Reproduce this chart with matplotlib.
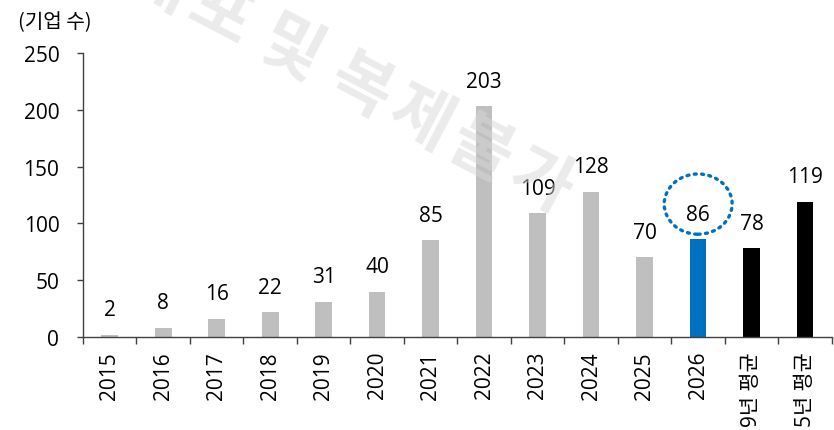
import matplotlib
matplotlib.use("Agg")
import matplotlib.pyplot as plt
from matplotlib.patches import Ellipse
import numpy as np

plt.rcParams['font.family'] = ['Open Sans', 'Noto Sans CJK KR', 'DejaVu Sans']

categories = ["2015", "2016", "2017", "2018", "2019", "2020", "2021", "2022",
              "2023", "2024", "2025", "2026", "9년 평균", "5년 평균"]
values = [2, 8, 16, 22, 31, 40, 85, 203, 109, 128, 70, 86, 78, 119]
bar_colors = ["#BFBFBF"] * 11 + ["#0070C0", "#000000", "#000000"]
highlight = "2026"
y_unit = "(기업 수)"
yticks = [0, 50, 100, 150, 200, 250]
watermark = "무단배포 및 복제불가"

W, H = 834, 431
fig = plt.figure(figsize=(W / 100, H / 100), dpi=100)
ax = fig.add_axes([0.0995, 0.2158, 0.898, 0.6589])

x = np.arange(len(categories))
ax.bar(x, values, width=0.31, color=bar_colors, zorder=2)

for xi, v in zip(x, values):
    ax.annotate(str(v), (xi, v), xytext=(0, 14), textcoords="offset points",
                ha="center", va="baseline", fontsize=15, color="#000000", zorder=3)

# highlight ellipse around the 2026 label
hi = categories.index(highlight)
ell = Ellipse((hi, values[hi] + 31), width=1.27, height=53, fill=False,
              edgecolor="#0070C0", linewidth=2.4, linestyle=(0, (0.6, 1.6)),
              capstyle="round", zorder=4, clip_on=False)
ax.add_patch(ell)

ax.set_xlim(-0.5, len(categories) - 0.5)
ax.set_ylim(0, 250)
ax.set_yticks(yticks)
ax.set_yticklabels([str(t) for t in yticks], fontsize=15)
ax.set_xticks(x)
ax.set_xticklabels(categories, rotation=90, fontsize=15)
ax.set_xticks(np.arange(-0.5, len(categories)), minor=True)

for s in ["top", "right"]:
    ax.spines[s].set_visible(False)
for s in ["left", "bottom"]:
    ax.spines[s].set_color("#404040")
    ax.spines[s].set_linewidth(1.0)

ax.tick_params(axis="x", which="major", length=0, pad=10)
ax.tick_params(axis="x", which="minor", length=5, width=1.0, color="#404040", direction="out")
ax.tick_params(axis="y", which="major", length=4, width=1.0, color="#404040", pad=13)

fig.text(0.021, 0.948, y_unit, fontsize=14.5, ha="left", va="center",
         family=['Noto Sans CJK KR', 'DejaVu Sans'])

# faint diagonal watermark, laid out character by character (spaced letters)
ang = np.deg2rad(27.6)
d = np.array([np.cos(ang), np.sin(ang)])
start = np.array([360.0, 88.0]) - 362 * d   # pixel position of first character
pos = 0.0
for ch in watermark:
    if ch == " ":
        pos += 11
        continue
    px, py = start + pos * d
    fig.text(px / W, 1 - py / H, ch, fontsize=48, fontweight="bold",
             family=['Noto Sans CJK KR'], color="#d8d8d8", alpha=0.5,
             rotation=-27.6, rotation_mode="anchor", ha="center", va="center",
             zorder=10)
    pos += 68

fig.savefig("out.png", dpi=100)
